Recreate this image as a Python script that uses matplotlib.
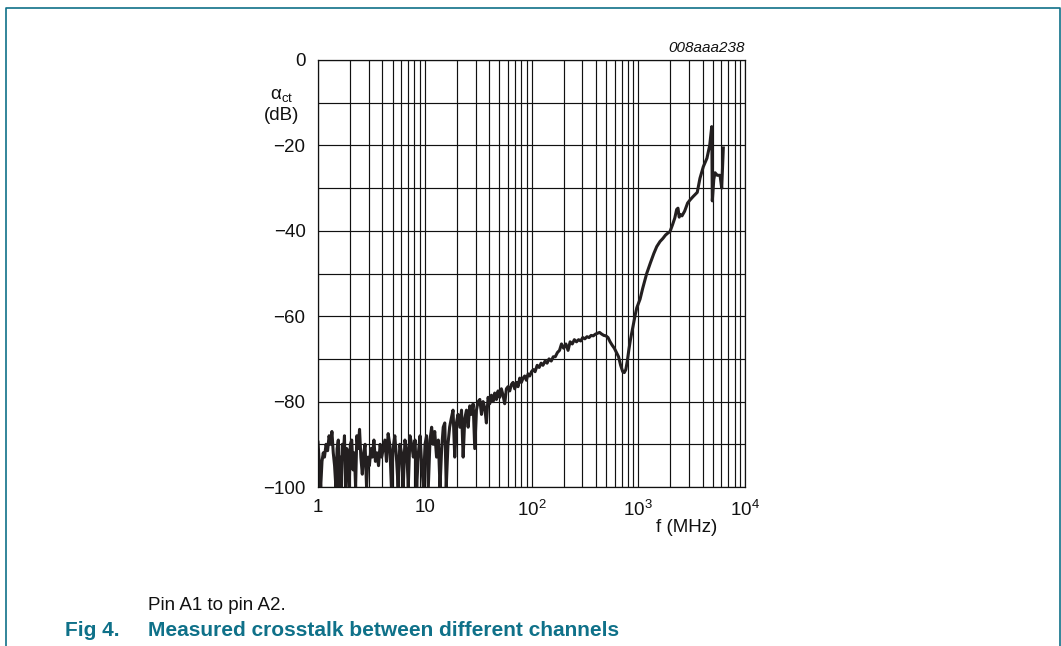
import matplotlib
matplotlib.use("Agg")
from matplotlib import pyplot as plt
from matplotlib.lines import Line2D
from matplotlib.ticker import LogLocator, FixedLocator, NullFormatter
import numpy as np

plt.rcParams['font.family'] = ['Liberation Sans', 'DejaVu Sans']
plt.rcParams['mathtext.fontset'] = 'custom'
plt.rcParams['mathtext.rm'] = 'Liberation Sans'
plt.rcParams['mathtext.it'] = 'Liberation Sans:italic'

# crosstalk data: frequency (MHz) and level (dB)
f_1_10 = [1.00, 1.03, 1.06, 1.09, 1.12, 1.15, 1.19, 1.23, 1.27, 1.31,
          1.35, 1.39, 1.43, 1.47, 1.51, 1.55, 1.58, 1.61, 1.65, 1.69,
          1.73, 1.77, 1.81, 1.86, 1.91, 1.96, 2.01, 2.07, 2.13, 2.19,
          2.25, 2.31, 2.38, 2.45, 2.52, 2.60, 2.68, 2.76, 2.85, 2.94,
          3.03, 3.13, 3.23, 3.34, 3.45, 3.57, 3.69, 3.82, 3.95, 4.09,
          4.23, 4.38, 4.54, 4.70, 4.87, 5.05, 5.24, 5.43, 5.63, 5.84,
          6.06, 6.29, 6.52, 6.76, 7.01, 7.27, 7.54, 7.82, 8.11, 8.41,
          8.72, 9.04, 9.37, 9.71, 10.06]
db_1_10 = [-89.5, -95, -100, -94, -92, -93, -90, -91.5, -88, -90,
           -87, -92, -95, -100, -91, -89, -100, -93, -100, -90,
           -92, -88, -100, -91, -94, -100, -90, -89, -96, -92,
           -100, -88, -91, -86.5, -93, -97, -92, -90, -100, -93,
           -95, -91, -93, -89, -94, -92, -95, -90, -93, -91,
           -89, -94, -87.5, -90, -100, -91, -88, -93, -100, -90,
           -92, -100, -89, -91, -100, -88, -90, -93, -89, -100,
           -92, -88, -95, -100, -90]

f_10_100 = [10.4, 10.8, 11.2, 11.6, 12.0, 12.4, 12.9, 13.4, 13.9, 14.4,
            14.9, 15.4, 15.9, 16.5, 17.1, 17.7, 18.4, 19.1, 19.8, 20.5,
            21.3, 22.1, 22.9, 23.7, 24.6, 25.5, 26.4, 27.4, 28.4, 29.4,
            30.5, 31.6, 32.8, 34.0, 35.2, 36.5, 37.8, 39.2, 40.6, 42.1,
            43.6, 45.2, 46.9, 48.6, 50.4, 52.2, 54.1, 56.1, 58.2, 60.3,
            62.5, 64.8, 67.2, 69.6, 72.2, 74.8, 77.6, 80.4, 83.4, 86.4,
            89.6, 92.9, 96.3, 100]
db_10_100 = [-88, -100, -89, -86, -90, -87, -93, -89, -100, -91,
             -86, -85, -100, -90, -86, -84, -82, -93, -85, -83,
             -86, -82, -93, -84, -82, -86, -81, -83, -80.5, -91,
             -82, -80, -79.5, -83, -80, -81.5, -85, -79, -80.5, -78.5,
             -80, -78, -79.5, -77.5, -79, -77, -78.5, -80.5, -77, -76.5,
             -77.5, -76, -75.5, -77, -75.5, -76.5, -74.5, -75.5, -74.5, -74,
             -75, -73.5, -74, -73]

f_100_1000 = [104, 108, 113, 118, 123, 128, 134, 140, 146, 153,
              160, 167, 175, 183, 191, 200, 210, 220, 230, 241,
              252, 264, 276, 289, 302, 316, 331, 346, 362, 379,
              397, 415, 434, 455, 476, 498, 521, 545, 570, 597,
              625, 654, 684, 716, 740, 765, 790, 815, 845, 875,
              905, 940, 970]
db_100_1000 = [-72.5, -73, -71.5, -72, -71, -71.5, -70.5, -71, -70, -70.5,
               -69.5, -69.5, -68.5, -68, -66.5, -67.5, -66.5, -68, -66, -66.5,
               -65.5, -66, -65.5, -65.8, -65, -65.3, -64.8, -65, -64.5, -64.6,
               -64.2, -64, -63.8, -64.2, -64.5, -64.6, -65, -66, -66.8, -67.5,
               -68.5, -69.5, -71.5, -73, -73.2, -72.5, -70.5, -68, -65.5, -63.5,
               -61.5, -59.5, -58]

f_high = [1040, 1100, 1200, 1300, 1400, 1490, 1600, 1700, 1800, 1900,
          1983, 2100, 2200, 2290, 2356, 2420, 2470, 2570, 2720, 2900,
          3050, 3260, 3570, 3785, 4067, 4400, 4670, 4820, 4880, 4940,
          5100, 5237, 5500, 5835, 6050, 6265]
db_high = [-56, -53.5, -50, -47.5, -45.3, -43.7, -42.5, -41.8, -41, -40.5,
           -40.2, -38.5, -37, -35, -34.7, -36.8, -36.2, -36.5, -35.4, -33.5,
           -32.8, -32, -31, -27.7, -25, -23, -20, -17, -15.6, -33,
           -28, -26.4, -27, -27, -30, -20.6]

freq = np.array(f_1_10 + f_10_100 + f_100_1000 + f_high)
level = np.array(db_1_10 + db_10_100 + db_100_1000 + db_high)

x_ticks = [1, 10, 100, 1000, 10000]
x_labels = ['1', '10', r'$10^2$', r'$10^3$', r'$10^4$']
y_grid = np.arange(-100, 1, 10)

W, H = 1061, 646
fig = plt.figure(figsize=(W / 100, H / 100), dpi=100)
ax = fig.add_axes([318 / W, 1 - 487 / H, 427 / W, 427 / H])

ax.plot(freq, level, color='#231f20', linewidth=2.2, solid_joinstyle='round')

ax.set_xscale('log')
ax.set_xlim(1, 1e4)
ax.set_ylim(-100, 0)
ax.xaxis.set_major_locator(FixedLocator(x_ticks))
ax.set_xticklabels(x_labels)
ax.xaxis.set_minor_locator(LogLocator(base=10, subs=np.arange(2, 10)))
ax.xaxis.set_minor_formatter(NullFormatter())
ax.yaxis.set_major_locator(FixedLocator(y_grid))
ylabels = []
for v in y_grid:
    if v == 0:
        ylabels.append('0')
    elif v % 20 == 0:
        ylabels.append('\u2212%d' % -v)
    else:
        ylabels.append('')
ax.set_yticklabels(ylabels)
ax.grid(which='both', color='#111111', linewidth=0.85)
ax.tick_params(which='both', length=0, labelsize=13.5, colors='#111111')
ax.tick_params(axis='x', pad=9)
ax.tick_params(axis='y', pad=9)
for s in ax.spines.values():
    s.set_color('#111111')
    s.set_linewidth(0.9)

ax.text(1.0, 1.012, '008aaa238', transform=ax.transAxes, ha='right', va='bottom',
        fontsize=11, style='italic', color='#111111')
fig.text(282 / W, 1 - 96 / H, '$\\mathrm{\u03b1}_{\\mathrm{ct}}$', ha='center', va='center',
         fontsize=13.5, color='#111111')
fig.text(282 / W, 1 - 115 / H, '(dB)', ha='center', va='center', fontsize=13.5, color='#111111')
fig.text(687 / W, 1 - 527 / H, 'f (MHz)', ha='center', va='center', fontsize=13.5, color='#111111')

fig.text(148 / W, 1 - 605 / H, 'Pin A1 to pin A2.', ha='left', va='center', fontsize=13.5, color='#111111')
teal = '#0f7189'
fig.text(65 / W, 1 - 631 / H, 'Fig 4.', ha='left', va='center', fontsize=15, fontweight='bold', color=teal)
fig.text(148 / W, 1 - 631 / H, 'Measured crosstalk between different channels', ha='left', va='center',
         fontsize=15, fontweight='bold', color=teal)

# frame around the figure (open at the bottom)
fig.add_artist(Line2D([5.5 / W, 5.5 / W, 1059.5 / W, 1059.5 / W], [0, 1 - 7.5 / H, 1 - 7.5 / H, 0],
                      transform=fig.transFigure, color=teal, linewidth=1.2))

fig.savefig('out.png', dpi=100)
